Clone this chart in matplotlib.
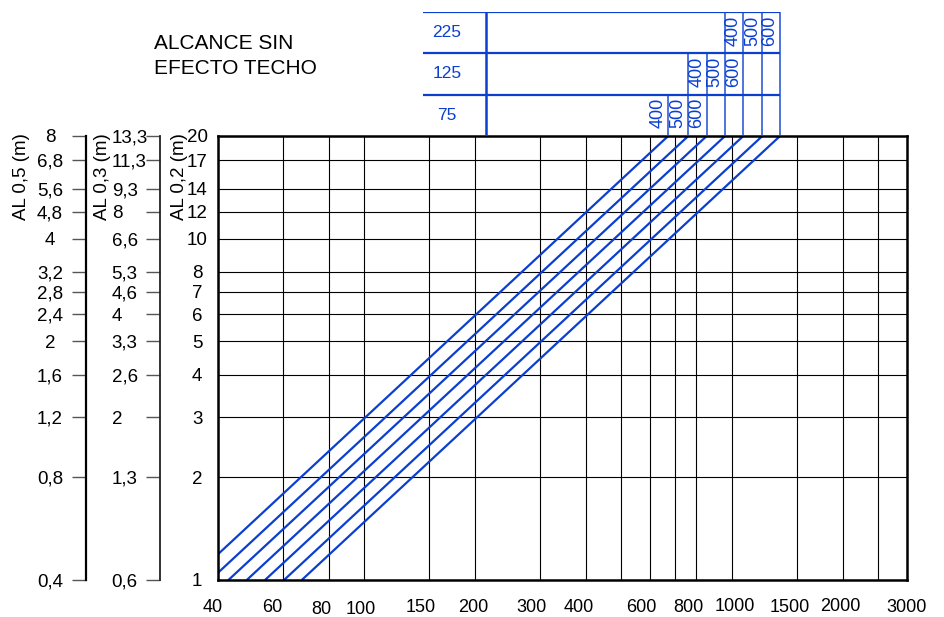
import matplotlib
matplotlib.use("Agg")
import matplotlib.pyplot as plt
import matplotlib.transforms as mtransforms
from matplotlib.ticker import FixedLocator, NullLocator
import numpy as np

plt.rcParams['font.family'] = ['Liberation Sans', 'DejaVu Sans']

# eje X (caudal)
X_MIN, X_MAX = 40, 3000
X_LABELS = [40, 60, 80, 100, 150, 200, 300, 400, 600, 800, 1000, 1500, 2000, 3000]
X_EXTRA_GRID = [500, 700, 2500]

# ejes Y (alcance)
Y_MIN, Y_MAX = 1, 20
Y_TICKS = [1, 2, 3, 4, 5, 6, 7, 8, 10, 12, 14, 17, 20]
Y_02 = ['1', '2', '3', '4', '5', '6', '7', '8', '10', '12', '14', '17', '20']
Y_03 = ['0,6', '1,3', '2', '2,6', '3,3', '4', '4,6', '5,3', '6,6', '8', '9,3', '11,3', '13,3']
Y_05 = ['0,4', '0,8', '1,2', '1,6', '2', '2,4', '2,8', '3,2', '4', '4,8', '5,6', '6,8', '8']

# rectas caudal / alcance, extremos
LINE_X = [[40, 671], [40, 761], [42.7, 854], [47.9, 958], [53.7, 1074], [60.5, 1210], [67.6, 1352]]
LINE_Y = [[1.19, 20], [1.05, 20], [1, 20], [1, 20], [1, 20], [1, 20], [1, 20]]

# tabla superior: filas y columnas, y que recta cierra cada celda
ROWS = ['75', '125', '225']
COLS = ['400', '500', '600']
ROW_LINES = [[0, 1, 2], [2, 3, 4], [4, 5, 6]]

BLUE = '#0b3fd0'
W, H = 944, 617

fig = plt.figure(figsize=(W / 100, H / 100), dpi=100)

ax_l, ax_b = 218 / W, 37 / H
ax_w, ax_h = 689.3 / W, 444 / H
ax = fig.add_axes([ax_l, ax_b, ax_w, ax_h])
ax.set_xscale('log')
ax.set_yscale('log')
ax.set_xlim(X_MIN, X_MAX)
ax.set_ylim(Y_MIN, Y_MAX)

ax.xaxis.set_major_locator(FixedLocator(X_LABELS))
ax.xaxis.set_minor_locator(FixedLocator(X_EXTRA_GRID))
ax.set_xticklabels([str(v) for v in X_LABELS])
ax.xaxis.set_minor_formatter(matplotlib.ticker.NullFormatter())
ax.yaxis.set_major_locator(FixedLocator(Y_TICKS))
ax.yaxis.set_minor_locator(NullLocator())
ax.set_yticklabels(Y_02)

ax.grid(True, which='both', color='black', lw=0.8)
ax.tick_params(axis='both', which='both', length=0)
ax.tick_params(axis='x', pad=14, labelsize=13)
ax.tick_params(axis='y', pad=15, labelsize=13.5)
for t in ax.get_yticklabels():
    t.set_ha('center')
for s in ax.spines.values():
    s.set_linewidth(1.8)

# ajuste fino de la posicion de las etiquetas del eje X (pixeles)
x_shift = [(-5, 0), (-10, 0), (-7, -2), (-4, -2), (-8, 0), (-2, 0), (-8, 0),
           (-7, 0), (-9, 0), (-8, 0), (3, 1.5), (-7, 0), (-2.5, 1.5), (-1, 0)]
for t, (dx, dy) in zip(ax.get_xticklabels(), x_shift):
    t.set_transform(t.get_transform() + mtransforms.ScaledTranslation(dx / 100, dy / 100, fig.dpi_scale_trans))

for xs, ys in zip(LINE_X, LINE_Y):
    ax.plot(xs, ys, color=BLUE, lw=1.6, solid_capstyle='butt')

# escalas auxiliares AL 0,5 y AL 0,3
for xpos, labels, ha, pad, sc, sw in [(86, Y_05, 'center', 15.6, 'black', 1.6),
                                      (160, Y_03, 'left', 24.5, '#222222', 1.3)]:
    a = fig.add_axes([xpos / W, ax_b, 0.0005, ax_h])
    a.set_yscale('log')
    a.set_ylim(Y_MIN, Y_MAX)
    a.yaxis.set_major_locator(FixedLocator(Y_TICKS))
    a.yaxis.set_minor_locator(NullLocator())
    a.set_yticklabels(labels)
    a.set_xticks([])
    a.patch.set_visible(False)
    for s in ['top', 'right', 'bottom']:
        a.spines[s].set_visible(False)
    a.spines['left'].set_color(sc)
    a.spines['left'].set_linewidth(sw)
    a.tick_params(axis='y', direction='out', length=10.3, width=1.0, color='#555555',
                  pad=pad, labelsize=13.5)
    for t in a.get_yticklabels():
        t.set_ha(ha)

for xc, txt in [(21.7, 'AL 0,5 (m)'), (102.5, 'AL 0,3 (m)'), (179.7, 'AL 0,2 (m)')]:
    fig.text(xc / W, 1 - 133 / H, txt, rotation=90, ha='center', va='top', fontsize=13.5)

fig.text(154 / W, 1 - 49.3 / H, 'ALCANCE SIN', fontsize=15, va='baseline')
fig.text(154 / W, 1 - 74 / H, 'EFECTO TECHO', fontsize=15, va='baseline')

# tabla superior
tax = fig.add_axes([ax_l, ax_b + ax_h, ax_w, 124.3 / H], sharex=ax)
tax.set_ylim(0, len(ROWS))
tax.axis('off')
tax.patch.set_visible(False)

lx0, lx1 = np.log10(X_MIN), np.log10(X_MAX)


def frac_to_x(f):
    return 10 ** (lx0 + f * (lx1 - lx0))


tops = [row[1] for row in LINE_X]
line_top_row = [0] * len(tops)
for r, idx in enumerate(ROW_LINES):
    used = list(idx)
    if r > 0:
        used.append(idx[0] - 1)
    for i in used:
        line_top_row[i] = max(line_top_row[i], r + 1)

x_left = frac_to_x(0.297)
x_right = max(tops)
for r in range(1, len(ROWS) + 1):
    tax.hlines(r, x_left, x_right, color=BLUE, lw=1.6)
tax.vlines(frac_to_x(0.3888), 0, len(ROWS), color=BLUE, lw=1.8)
for xt, top in zip(tops, line_top_row):
    tax.vlines(xt, 0, top, color=BLUE, lw=1.2, alpha=0.85)

for r, name in enumerate(ROWS):
    tax.text(frac_to_x(0.332), r + 0.5, name, color=BLUE, fontsize=12.5, ha='center', va='center')
    shifted = mtransforms.offset_copy(tax.transData, fig=fig, x=-10, y=2, units='dots')
    for c, i in enumerate(ROW_LINES[r]):
        tax.text(tops[i], r + 0.5, COLS[c], color=BLUE, fontsize=13, rotation=90,
                 ha='center', va='center', transform=shifted)

fig.savefig('out.png', dpi=100)
